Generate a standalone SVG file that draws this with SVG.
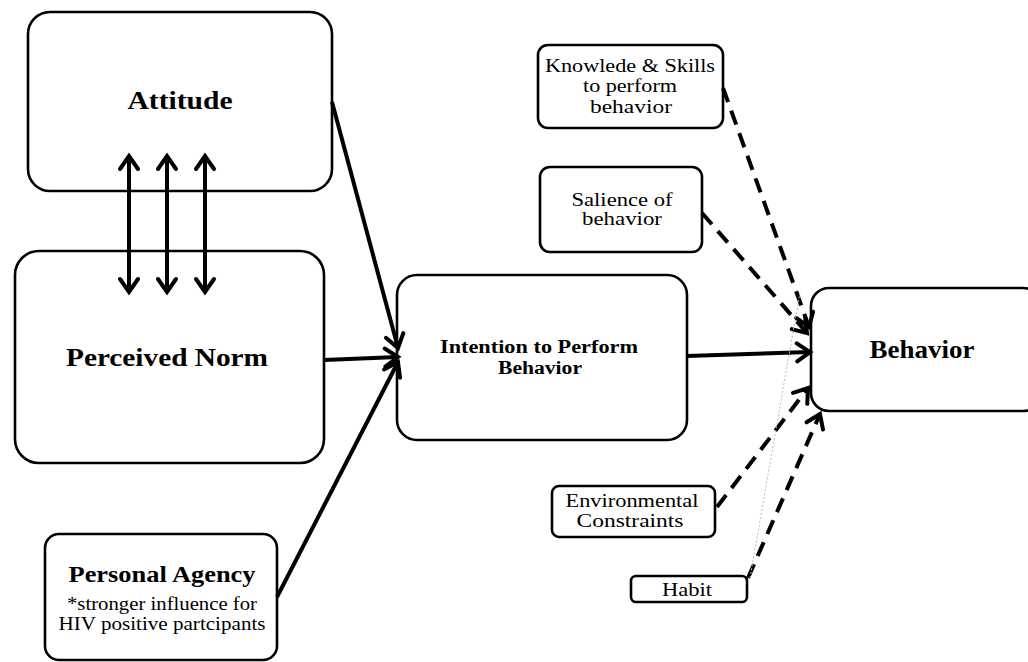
<svg xmlns="http://www.w3.org/2000/svg" width="1028" height="662" viewBox="0 0 1028 662">
<style>
.box{fill:#fff;stroke:#000;stroke-width:2.6}
text{font-family:'Liberation Serif','Times New Roman',Times,serif}
.b{font-weight:bold;fill:#000;text-anchor:middle}
.r{fill:#000;text-anchor:middle;font-size:18px}
.solid{fill:none;stroke:#000;stroke-width:4}
.dash{fill:none;stroke:#000;stroke-width:4;stroke-dasharray:15 9}
</style>
<defs>
<marker id="ah" markerUnits="userSpaceOnUse" viewBox="-16 -12 20 24" markerWidth="20" markerHeight="24" refX="0" refY="0" orient="auto-start-reverse">
<path d="M-13,-9 L0,0 L-13,9" fill="none" stroke="#000" stroke-width="4" stroke-linecap="round" stroke-linejoin="miter"/>
</marker>
</defs>
<rect width="1028" height="662" fill="#fff"/>
<g id="attitude">
<rect class="box" x="28" y="12" width="304" height="179" rx="22"/>
<text class="b" x="180" y="109" font-size="25" textLength="105" lengthAdjust="spacingAndGlyphs">Attitude</text>
</g>
<g id="perceived-norm">
<rect class="box" x="15" y="251" width="309" height="212" rx="24"/>
<text class="b" x="167" y="366" font-size="25" textLength="202" lengthAdjust="spacingAndGlyphs">Perceived Norm</text>
</g>
<g id="personal-agency">
<rect class="box" x="45" y="534" width="232" height="126" rx="14"/>
<text class="b" x="162" y="582" font-size="24" textLength="187" lengthAdjust="spacingAndGlyphs">Personal Agency</text>
<text class="r" x="162" y="610" textLength="190" lengthAdjust="spacingAndGlyphs">*stronger influence  for</text>
<text class="r" x="162" y="630" textLength="207" lengthAdjust="spacingAndGlyphs">HIV positive partcipants</text>
</g>
<g id="intention">
<rect class="box" x="397" y="275" width="290" height="165" rx="20"/>
<text class="b" x="539" y="353" font-size="18" textLength="198" lengthAdjust="spacingAndGlyphs">Intention  to Perform</text>
<text class="b" x="540" y="374" font-size="18" textLength="84" lengthAdjust="spacingAndGlyphs">Behavior</text>
</g>
<g id="behavior">
<rect class="box" x="811" y="288" width="230" height="123" rx="18"/>
<text class="b" x="922" y="358" font-size="25" textLength="105" lengthAdjust="spacingAndGlyphs">Behavior</text>
</g>
<g id="knowledge">
<rect class="box" x="538" y="45" width="185" height="83" rx="10"/>
<text class="r" x="630" y="72" textLength="170" lengthAdjust="spacingAndGlyphs">Knowlede &amp; Skills</text>
<text class="r" x="630" y="92" textLength="94" lengthAdjust="spacingAndGlyphs">to perform</text>
<text class="r" x="631" y="113" textLength="82" lengthAdjust="spacingAndGlyphs">behavior</text>
</g>
<g id="salience">
<rect class="box" x="540" y="167" width="162" height="85" rx="10"/>
<text class="r" x="622" y="206" textLength="101" lengthAdjust="spacingAndGlyphs">Salience of</text>
<text class="r" x="622" y="225" textLength="80" lengthAdjust="spacingAndGlyphs">behavior</text>
</g>
<g id="environmental">
<rect class="box" x="552" y="486" width="163" height="51" rx="7"/>
<text class="r" x="632" y="507" textLength="133" lengthAdjust="spacingAndGlyphs">Environmental</text>
<text class="r" x="630" y="527" textLength="107" lengthAdjust="spacingAndGlyphs">Constraints</text>
</g>
<g id="habit">
<rect class="box" x="631" y="576" width="116" height="26" rx="5"/>
<text class="r" x="687" y="596" textLength="50" lengthAdjust="spacingAndGlyphs">Habit</text>
</g>
<g id="connectors">
<line class="solid" x1="129" y1="156" x2="129" y2="292" marker-start="url(#ah)" marker-end="url(#ah)"/>
<line class="solid" x1="167" y1="156" x2="167" y2="292" marker-start="url(#ah)" marker-end="url(#ah)"/>
<line class="solid" x1="205" y1="156" x2="205" y2="292" marker-start="url(#ah)" marker-end="url(#ah)"/>
<line class="solid" x1="332" y1="102" x2="398" y2="348" marker-end="url(#ah)"/>
<line class="solid" x1="324" y1="360" x2="398" y2="357" stroke-width="5" marker-end="url(#ah)"/>
<line class="solid" x1="277" y1="597" x2="398" y2="362" marker-end="url(#ah)"/>
<line class="solid" x1="687" y1="356" x2="810" y2="352" stroke-width="5" marker-end="url(#ah)"/>
<line class="dash" x1="723" y1="88" x2="809" y2="327" marker-end="url(#ah)"/>
<line class="dash" x1="702" y1="213" x2="807" y2="333" marker-end="url(#ah)"/>
<line class="dash" x1="717" y1="507" x2="808" y2="388" marker-end="url(#ah)"/>
<line class="dash" x1="748" y1="578" x2="820" y2="414" marker-end="url(#ah)"/>
<line x1="750" y1="578" x2="800" y2="292" stroke="#bbb" stroke-width="1" stroke-dasharray="2 2" fill="none"/>
</g>
</svg>
